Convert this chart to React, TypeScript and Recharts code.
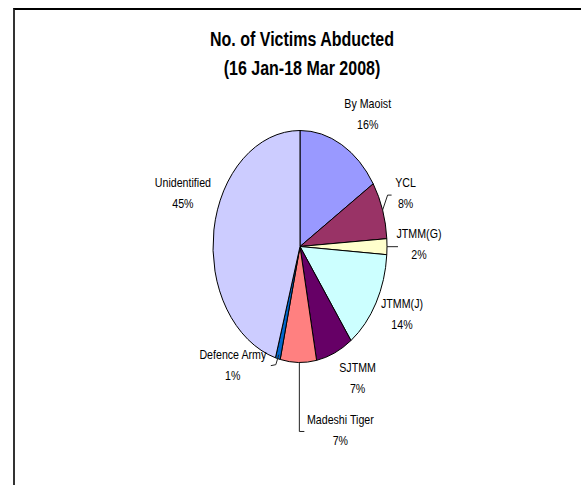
import React from 'react';
import { PieChart, Pie } from 'recharts';

const NAMES = ['By Maoist', 'YCL', 'JTMM(G)', 'JTMM(J)', 'SJTMM', 'Madeshi Tiger', 'Defence Army', 'Unidentified'];
const VALUES = [15.9, 8.0, 2.2, 13.9, 6.9, 6.7, 0.9, 45.4];
const COLORS = ['#9999FF', '#993366', '#FFFFCC', '#CCFFFF', '#660066', '#FF8080', '#0066CC', '#CCCCFF'];

// label placement relative to the slice edge point
const LABEL_OFFSETS = [
  [26, -41], [23, -27], [32, -13], [26, 1], [23, 15], [42, 57], [-45, -4], [-31, -47],
];
// leader lines (relative to edge point), empty = none
const LEADERS: number[][][] = [
  [], [[0, 0], [5, -15], [9, -15]], [[0, 0], [11, 0]], [], [], [[1, 0], [1, 69], [6, 69]], [[1, -4], [-2, 6], [-7, 7]], [],
];

const RX = 87;
const RY = 116;
const RAD = Math.PI / 180;
const FONT = '"Liberation Sans", Arial, sans-serif';
const NARROW = 0.82;

const data = NAMES.map((name, i) => ({ name, value: VALUES[i], fill: COLORS[i] }));

const pt = (cx: number, cy: number, a: number) => [cx + RX * Math.cos(a * RAD), cy - RY * Math.sin(a * RAD)];

const EllipseSector = (props: any) => {
  const { cx, cy, startAngle, endAngle, fill } = props;
  const [x1, y1] = pt(cx, cy, startAngle);
  const [x2, y2] = pt(cx, cy, endAngle);
  const large = Math.abs(startAngle - endAngle) > 180 ? 1 : 0;
  const sweep = startAngle > endAngle ? 1 : 0;
  const d = `M${cx},${cy} L${x1},${y1} A${RX},${RY} 0 ${large} ${sweep} ${x2},${y2} Z`;
  return <path d={d} fill={fill} stroke="#000" strokeWidth={1} strokeLinejoin="round" />;
};

const renderLabel = (props: any) => {
  const { cx, cy, midAngle, index, name, percent } = props;
  const [ex, ey] = pt(cx, cy, midAngle);
  const [dx, dy] = LABEL_OFFSETS[index];
  const lx = ex + dx;
  const ly = ey + dy;
  const leader = LEADERS[index];
  return (
    <g>
      {leader.length > 0 && (
        <polyline
          points={leader.map(([a, b]) => `${ex + a},${ey + b}`).join(' ')}
          fill="none"
          stroke="#222"
          strokeWidth={1}
        />
      )}
      <g transform={`translate(${lx},${ly}) scale(${NARROW},1)`}>
        <text x={0} y={0} textAnchor="middle" dominantBaseline="central" fontFamily={FONT} fontSize={13} fill="#000">
          {name}
        </text>
        <text x={0} y={21} textAnchor="middle" dominantBaseline="central" fontFamily={FONT} fontSize={13} fill="#000">
          {Math.round(percent * 100)}%
        </text>
      </g>
    </g>
  );
};

export default function App() {
  return (
    <div style={{ position: 'absolute', left: 0, top: 0, width: 581, height: 485, overflow: 'hidden', background: '#fff' }}>
      <div
        style={{
          position: 'absolute', left: 13, top: 8, width: 600, height: 500,
          borderTop: '2px solid #000', borderLeft: '2px solid #333',
        }}
      />
      <div
        style={{
          position: 'absolute', left: 152, width: 300, top: 25, textAlign: 'center',
          fontFamily: FONT, fontWeight: 'bold', fontSize: 20, lineHeight: '29px', color: '#000',
          transform: 'scaleX(0.8)', transformOrigin: '150px 0',
        }}
      >
        <div>No. of Victims Abducted</div>
        <div>(16 Jan-18 Mar 2008)</div>
      </div>
      <div style={{ position: 'absolute', left: 0, top: 0 }}>
        <PieChart width={581} height={485} margin={{ top: 0, right: 0, bottom: 0, left: 0 }}>
          <Pie
            data={data}
            dataKey="value"
            nameKey="name"
            cx={300}
            cy={246.5}
            outerRadius={RY}
            startAngle={90}
            endAngle={-270}
            stroke="#000"
            shape={EllipseSector}
            activeShape={EllipseSector}
            inactiveShape={EllipseSector}
            label={renderLabel}
            labelLine={false}
            isAnimationActive={false}
          />
        </PieChart>
      </div>
    </div>
  );
}
